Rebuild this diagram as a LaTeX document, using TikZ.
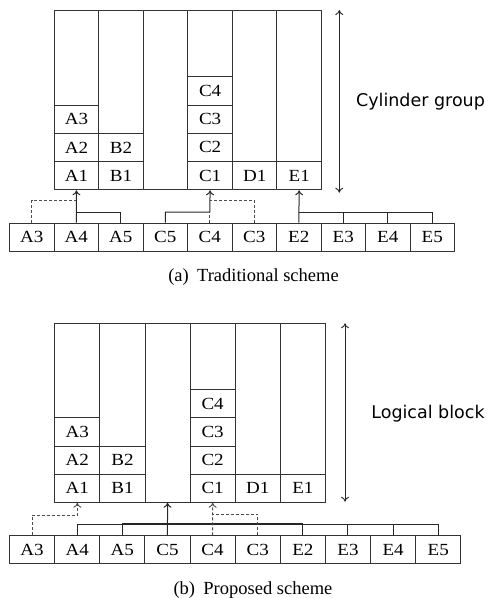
\documentclass[tikz,border=0pt]{standalone}
\usepackage{fontspec}
\setmainfont{Liberation Serif}
\newfontfamily\labelsans{DejaVu Sans}
\newfontfamily\cellfont[FakeStretch=1.12]{Liberation Serif}
\usetikzlibrary{arrows.meta,calc}
\tikzset{
  frame/.style={draw=black!80, line width=1pt, rectangle, inner sep=0pt, anchor=north west},
  cell/.style={frame, font=\cellfont\fontsize{17}{17}\selectfont},
  link/.style={draw=black!85, line width=1pt},
  dlink/.style={draw=black!70, line width=0.9pt, dash pattern=on 3pt off 2pt},
  tip/.style={-{To[length=5pt,width=8pt]}},
  span/.style={draw=black!85, line width=0.9pt, {To[length=5pt,width=8pt]}-{To[length=5pt,width=8pt]}},
  caption/.style={font=\fontsize{18.5}{20}\selectfont},
  side/.style={font=\labelsans\fontsize{17.5}{18}\selectfont},
}
\begin{document}
\begin{tikzpicture}[x=1pt,y=-1pt]
\useasboundingbox (0,0) rectangle (491,598);

% ---------------- (a) Traditional scheme ----------------
% columns of the cylinder group
\foreach \c in {0,...,5}
  \node[frame, minimum width=44.55pt, minimum height=179.3pt] (a-col\c) at ({53.7+\c*44.55},10) {};
% allocated blocks, stacked from the bottom of each column
\foreach \c/\t/\r in {0/A1/1,0/A2/2,0/A3/3,1/B1/1,1/B2/2,3/C1/1,3/C2/2,3/C3/3,3/C4/4,4/D1/1,5/E1/1}
  \node[cell, minimum width=44.55pt, minimum height=28.25pt] (a-\t) at ({53.7+\c*44.55},{189.3-\r*28.25}) {\t};
% incoming blocks
\foreach \t [count=\k] in {A3,A4,A5,C5,C4,C3,E2,E3,E4,E5}
  \node[cell, minimum width=44.5pt, minimum height=28pt] (a-b\k) at ({9+(\k-1)*44.5},222.7) {\t};

% file A
\draw[link,tip] (a-b2.north) -- (a-A1.south);
\draw[link] (a-b3.north) |- ($(a-b2.north)+(0,-10.7)$);
\draw[dlink] (a-b1.north) |- ($(a-b2.north)+(0,-22.7)$);
% file C
\draw[link,tip] (a-b4.north) |- ($(a-b5.north)+(0,-10.7)$) -- (a-C1.south);
\draw[dlink] (a-b5.north) -- ++(0,-10.7);
\draw[dlink] (a-b6.north) |- ($(a-b5.north)+(0,-22.7)$);
% file E
\draw[link,tip] (a-b7.north) -- (a-E1.south);
\draw[link] ($(a-b7.north)+(0,-10.7)$) -| (a-b10.north);
\foreach \k in {8,9} \draw[link] (a-b\k.north) -- ++(0,-10.7);

\coordinate (a-up) at (339.3,10);
\coordinate (a-down) at (339.3,192.7);
\draw[span] (a-up) -- (a-down);
\node[side] (a-side) at (420.5,101.7) {Cylinder group};
\node[caption] (a-cap) at (253.5,277.5) {(a)\hspace{0.45em}Traditional scheme};

% ---------------- (b) Proposed scheme ----------------
\foreach \c in {0,...,5}
  \node[frame, minimum width=45.1pt, minimum height=178.4pt] (b-col\c) at ({54.3+\c*45.1},323.3) {};
\foreach \c/\t/\r in {0/A1/1,0/A2/2,0/A3/3,1/B1/1,1/B2/2,3/C1/1,3/C2/2,3/C3/3,3/C4/4,4/D1/1,5/E1/1}
  \node[cell, minimum width=45.1pt, minimum height=28.1pt] (b-\t) at ({54.3+\c*45.1},{501.7-\r*28.1}) {\t};
\foreach \t [count=\k] in {A3,A4,A5,C5,C4,C3,E2,E3,E4,E5}
  \node[cell, minimum width=45.13pt, minimum height=28pt] (b-b\k) at ({9+(\k-1)*45.13},535.3) {\t};

% shared bus collecting the new blocks
\draw[link] (b-b2.north) |- ($(b-b10.north)+(0,-11.3)$) -- (b-b10.north);
\draw[link, line width=1.6pt] ($(b-b3.north)+(0,-11.3)$) -- ($(b-b7.north)+(0,-11.3)$);
\foreach \k in {3,7,8,9} \draw[link] (b-b\k.north) -- ++(0,-11.3);
\draw[link,tip] (b-b4.north) -- (b-col2.south);
% duplicated blocks
\draw[dlink,tip] (b-b1.north) |- ($(b-A1.south)+(0,12.3)$) -- (b-A1.south);
\draw[dlink,tip] (b-b5.north) -- (b-C1.south);
\draw[dlink] (b-b6.north) |- ($(b-b5.north)+(0,-21.3)$);

\coordinate (b-up) at (345,323.3);
\coordinate (b-down) at (345,501.7);
\draw[span] (b-up) -- (b-down);
\node[side] (b-side) at (428,414) {Logical block};
\node[caption] (b-cap) at (253,590) {(b)\hspace{0.45em}Proposed scheme};
\end{tikzpicture}
\end{document}
